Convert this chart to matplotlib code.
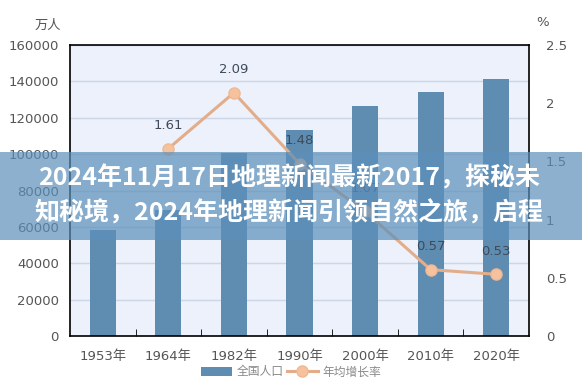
import matplotlib.pyplot as plt
from matplotlib.patches import Rectangle

plt.rcParams['font.family'] = ['DejaVu Sans', 'Noto Sans CJK SC']

years = ['1953年', '1964年', '1982年', '1990年', '2000年', '2010年', '2020年']
population = [58260, 69458, 100818, 113368, 126583, 133972, 141178]
rate_idx = [1, 2, 3, 4, 5, 6]
growth = [1.61, 2.09, 1.48, 1.07, 0.57, 0.53]

title_lines = ['2024年11月17日地理新闻最新2017，探秘未',
               '知秘境，2024年地理新闻引领自然之旅，启程']

bar_col = '#5f8db2'
line_col = '#e3ad8a'
txt_col = '#555555'

fig = plt.figure(figsize=(5.82, 3.92), dpi=100)
ax = fig.add_axes([70/582, 56/392, 459/582, 291/392])
ax.set_facecolor('#ecf1fb')

x = list(range(len(years)))
ax.bar(x, population, width=0.4, color=bar_col, zorder=2, label='全国人口')
ax.set_xlim(-0.5, len(years) - 0.5)
ax.set_ylim(0, 160000)
ax.set_yticks(range(0, 160001, 20000))
ax.grid(axis='y', color='#cdd6e6', lw=1, zorder=0)
ax.set_xticks(x)
ax.set_xticklabels(years)
ax.set_xticks([i + 0.5 for i in x[:-1]], minor=True)
ax.tick_params(axis='x', which='major', length=0, pad=10, colors=txt_col, labelsize=9.5)
ax.tick_params(axis='x', which='minor', length=5, direction='in', color='black')
ax.tick_params(axis='y', length=0, pad=8, colors=txt_col, labelsize=9.5)
for s in ax.spines.values():
    s.set_color('black')
    s.set_linewidth(1.2)

ax2 = ax.twinx()
ax2.plot(rate_idx, growth, color=line_col, lw=2.2, marker='o', ms=8,
         mfc='#f6c29e', mec='#f0b891', zorder=3, label='年均增长率')
ax2.set_ylim(0, 2.5)
ax2.set_yticks([0, 0.5, 1, 1.5, 2, 2.5])
ax2.set_yticklabels(['0', '0.5', '1', '1.5', '2', '2.5'])
ax2.tick_params(axis='y', length=0, pad=12, colors=txt_col, labelsize=9.5)
for s in ax2.spines.values():
    s.set_visible(False)
for xi, g in zip(rate_idx, growth):
    ax2.annotate(f'{g:.2f}', (xi, g), xytext=(0, 12), textcoords='offset points',
                 ha='center', va='bottom', fontsize=9.5, color='#3f4a5a')

fig.text(48/582, 1 - 25/392, '万人', ha='center', va='center', fontsize=9.5, color=txt_col)
fig.text(543/582, 1 - 22/392, '%', ha='center', va='center', fontsize=9.5, color=txt_col)

h1, l1 = ax.get_legend_handles_labels()
h2, l2 = ax2.get_legend_handles_labels()
fig.legend(h1 + h2, l1 + l2, loc='center', bbox_to_anchor=(0.5, 1 - 372/392),
           ncol=2, frameon=False, fontsize=8.5, labelcolor='#888888',
           handlelength=2.6, handletextpad=0.4, columnspacing=0.3)

# banner overlay
fig.patches.append(Rectangle((0, 1 - 240/392), 1, 88/392, transform=fig.transFigure,
                             facecolor='#5b8fba', alpha=0.7, zorder=10))
for i, t in enumerate(title_lines):
    fig.text(0.497, 1 - (178 + 35 * i)/392, t, ha='center', va='center', fontsize=18,
             fontweight='bold', color='white', family=['Noto Sans CJK SC', 'DejaVu Sans'],
             zorder=11)

fig.savefig('out.png', dpi=100)
